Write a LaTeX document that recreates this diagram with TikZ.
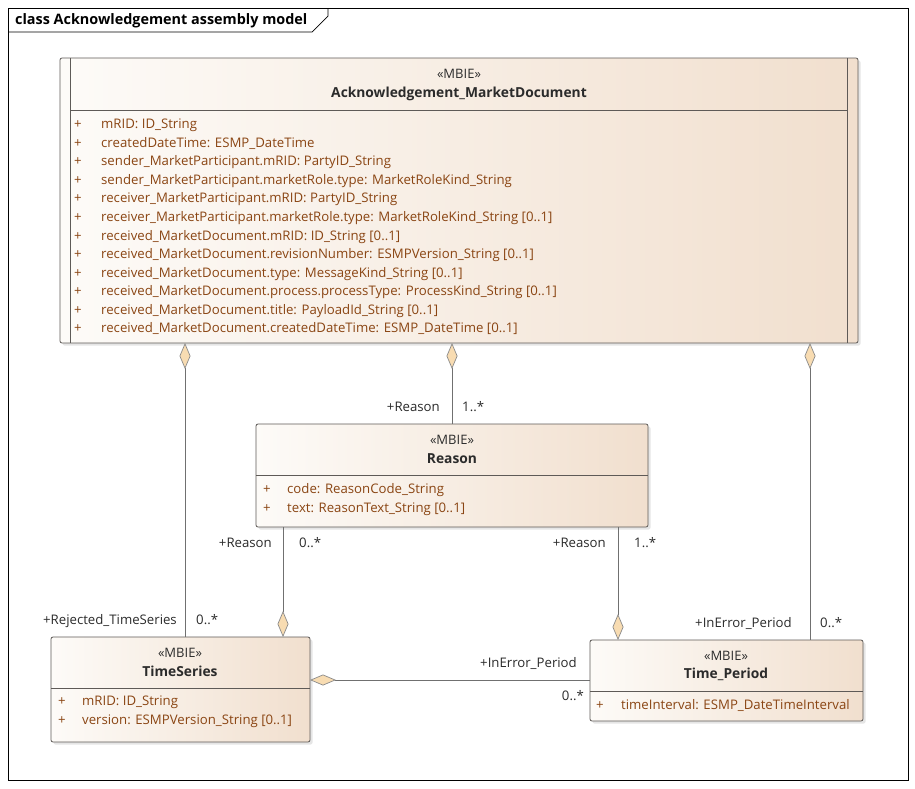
\documentclass[tikz,border=0pt]{standalone}
\usepackage{fontspec}
\setmainfont{Open Sans}
\usetikzlibrary{arrows.meta,shadows}
\definecolor{clsleft}{HTML}{FDFBF8}
\definecolor{clsright}{HTML}{F1DFCE}
\definecolor{clsedge}{HTML}{5E5A57}
\definecolor{attrbrown}{HTML}{8A4513}
\definecolor{ink}{HTML}{2B2B2B}
\definecolor{connline}{HTML}{707070}
\definecolor{diafill}{HTML}{F8DCB2}
\definecolor{diaedge}{HTML}{8A8A8A}

\begin{document}
\begin{tikzpicture}[x=1pt,y=-1pt,
    classbox/.style={draw=clsedge,line width=0.8pt,rounded corners=2pt,
      left color=clsleft,right color=clsright,anchor=north west,
      inner sep=0pt,outer sep=0pt,
      drop shadow={shadow xshift=2.5pt,shadow yshift=-2.5pt,fill=black!20}},
    sepline/.style={draw=clsedge,line width=0.8pt},
    stereo/.style={font=\fontsize{13}{15}\selectfont,color=ink,inner sep=0pt,
      text height=9.5pt,text depth=3pt},
    clsname/.style={font=\fontsize{13.8}{16}\selectfont\bfseries,color=ink,inner sep=0pt,
      text height=10pt,text depth=3pt},
    attr/.style={font=\fontsize{13.2}{15}\selectfont,color=attrbrown,anchor=west,
      inner sep=0pt,text height=9.5pt,text depth=3pt},
    role/.style={font=\fontsize{13.2}{15}\selectfont,color=ink,inner sep=0pt,
      text height=9.5pt,text depth=3pt},
    assoc/.style={draw=connline,line width=0.7pt},
    aggstart/.style={assoc,{Diamond[length=26pt,width=11pt,color=diaedge,fill=diafill,line width=0.7pt]}-},
    aggend/.style={assoc,-{Diamond[length=26pt,width=11pt,color=diaedge,fill=diafill,line width=0.7pt]}}]
  \useasboundingbox[fill=white] (0,0) rectangle (915,788);
  % diagram frame with title tab
  \draw[black,line width=0.7pt] (8,8) rectangle (908,780);
  \draw[black,line width=0.7pt] (8,32) -- (312,32) -- (328,16) -- (328,8);
  \node[anchor=west,font=\fontsize{14.4}{16}\selectfont\bfseries,inner sep=0pt] (frametitle) at (15,20.5) {class Acknowledgement assembly model};

  % Acknowledgement_MarketDocument
  \node[classbox,minimum width=798pt,minimum height=285pt] (doc) at (60,58) {};
  \draw[sepline] ([xshift=10pt]doc.north west) -- ([xshift=10pt]doc.south west);
  \draw[sepline] ([xshift=-11pt]doc.north east) -- ([xshift=-11pt]doc.south east);
  \draw[sepline] ([xshift=10pt,yshift=-52pt]doc.north west) -- ([xshift=-11pt,yshift=-52pt]doc.north east);
  \node[stereo] (docst) at (459,75) {«MBIE»};
  \node[clsname] (docnm) at (459,94) {Acknowledgement\_MarketDocument};
  \foreach \t [count=\i] in {mRID: ID\_String,
      createdDateTime: ESMP\_DateTime,
      sender\_MarketParticipant.mRID: PartyID\_String,
      sender\_MarketParticipant.marketRole.type: MarketRoleKind\_String,
      receiver\_MarketParticipant.mRID: PartyID\_String,
      receiver\_MarketParticipant.marketRole.type: MarketRoleKind\_String [0..1],
      received\_MarketDocument.mRID: ID\_String [0..1],
      received\_MarketDocument.revisionNumber: ESMPVersion\_String [0..1],
      received\_MarketDocument.type: MessageKind\_String [0..1],
      received\_MarketDocument.process.processType: ProcessKind\_String [0..1],
      received\_MarketDocument.title: PayloadId\_String [0..1],
      received\_MarketDocument.createdDateTime: ESMP\_DateTime [0..1]} {
    \node[attr] (docpl\i) at (74,{125.5+18.55*(\i-1)}) {+};
    \node[attr] (docat\i) at (101,{125.5+18.55*(\i-1)}) {\t};
  }

  % Reason
  \node[classbox,minimum width=392pt,minimum height=103pt] (rsn) at (256,424) {};
  \draw[sepline] ([yshift=-51pt]rsn.north west) -- ([yshift=-51pt]rsn.north east);
  \node[stereo] (rsnst) at (452,441) {«MBIE»};
  \node[clsname] (rsnnm) at (452,459.5) {Reason};
  \node[attr] (rsnpl1) at (263,490.5) {+};
  \node[attr] (rsnat1) at (287,490.5) {code: ReasonCode\_String};
  \node[attr] (rsnpl2) at (263,509.5) {+};
  \node[attr] (rsnat2) at (287,509.5) {text: ReasonText\_String [0..1]};

  % TimeSeries
  \node[classbox,minimum width=259pt,minimum height=105pt] (ts) at (51,637) {};
  \draw[sepline] ([yshift=-51pt]ts.north west) -- ([yshift=-51pt]ts.north east);
  \node[stereo] (tsst) at (180,654) {«MBIE»};
  \node[clsname] (tsnm) at (180,672.5) {TimeSeries};
  \node[attr] (tspl1) at (58,702.5) {+};
  \node[attr] (tsat1) at (82,702.5) {mRID: ID\_String};
  \node[attr] (tspl2) at (58,721.5) {+};
  \node[attr] (tsat2) at (82,721.5) {version: ESMPVersion\_String [0..1]};

  % Time_Period
  \node[classbox,minimum width=273pt,minimum height=81pt] (tp) at (590,640) {};
  \draw[sepline] ([yshift=-51pt]tp.north west) -- ([yshift=-51pt]tp.north east);
  \node[stereo] (tpst) at (726,657) {«MBIE»};
  \node[clsname] (tpnm) at (726,674.5) {Time\_Period};
  \node[attr] (tppl1) at (596,706) {+};
  \node[attr] (tpat1) at (621,706) {timeInterval: ESMP\_DateTimeInterval};

  % aggregations
  \draw[aggstart] ([xshift=125pt]doc.south west) -- ([xshift=134pt]ts.north west);
  \draw[aggstart] ([xshift=392pt]doc.south west) -- ([xshift=196pt]rsn.north west);
  \draw[aggstart] ([xshift=750pt]doc.south west) -- ([xshift=220pt]tp.north west);
  \draw[aggend] ([xshift=27pt]rsn.south west) -- ([xshift=232pt]ts.north west);
  \draw[aggend] ([xshift=362pt]rsn.south west) -- ([xshift=28pt]tp.north west);
  \draw[aggstart] ([yshift=-43pt]ts.north east) -- ([yshift=-40pt]tp.north west);

  % role names and multiplicities
  \node[role,anchor=east] (r1) at (177,621) {+Rejected\_TimeSeries};
  \node[role,anchor=west] (m1) at (196,621) {0..*};
  \node[role,anchor=east] (r2) at (440,408) {+Reason};
  \node[role,anchor=west] (m2) at (462,408) {1..*};
  \node[role,anchor=east] (r3) at (792,624) {+InError\_Period};
  \node[role,anchor=west] (m3) at (820,624) {0..*};
  \node[role,anchor=east] (r4) at (272,544) {+Reason};
  \node[role,anchor=west] (m4) at (299,544) {0..*};
  \node[role,anchor=east] (r5) at (606,544) {+Reason};
  \node[role,anchor=west] (m5) at (634,544) {1..*};
  \node[role,anchor=east] (r6) at (577,664) {+InError\_Period};
  \node[role,anchor=east] (m6) at (584,697) {0..*};
\end{tikzpicture}
\end{document}
